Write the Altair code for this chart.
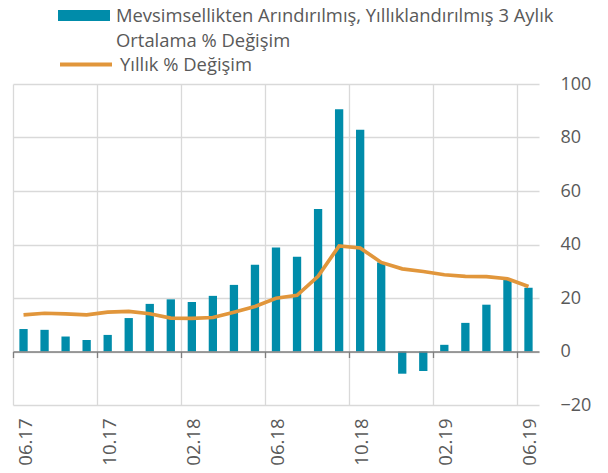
import altair as alt
import pandas as pd

months = ["06.17", "07.17", "08.17", "09.17", "10.17", "11.17", "12.17",
          "01.18", "02.18", "03.18", "04.18", "05.18", "06.18", "07.18",
          "08.18", "09.18", "10.18", "11.18", "12.18", "01.19", "02.19",
          "03.19", "04.19", "05.19", "06.19"]
bar_values = [8.4, 8.1, 5.6, 4.3, 6.2, 12.5, 17.8, 19.5, 18.5, 20.8, 24.9, 32.4,
              38.9, 35.4, 53.3, 90.6, 82.9, 33.3, -8.3, -7.3, 2.5, 10.7, 17.5,
              27.1, 23.8]
line_values = [13.7, 14.3, 14.1, 13.7, 14.7, 15.0, 14.1, 12.5, 12.4, 12.7, 14.7,
               16.8, 19.9, 21.0, 28.1, 39.5, 38.7, 33.3, 30.9, 29.9, 28.7, 28.1,
               28.0, 27.2, 24.3]
tick_months = ["06.17", "10.17", "02.18", "06.18", "10.18", "02.19", "06.19"]
y_ticks = [-20, 0, 20, 40, 60, 80, 100]
bar_name = "Mevsimsellikten Arındırılmış, Yıllıklandırılmış 3 Aylık|Ortalama % Değişim"
line_name = "Yıllık % Değişim"

df = pd.DataFrame({"month": months, "bar": bar_values, "line": line_values,
                   "bar_series": bar_name, "line_series": line_name})

W, H = 526, 321
FONT = "Open Sans"
GRAY = "#595959"
TEAL = "#008CAA"
ORANGE = "#E1963B"
GRID = "#D9D9D9"
LEG_FS = 18.4
LINE_H = 25.5

x_scale = alt.Scale(domain=months, paddingInner=0, paddingOuter=0)
y_scale = alt.Scale(domain=[-20, 100], nice=False)

bars = alt.Chart(df).mark_bar(size=8.3).encode(
    x=alt.X("month:N", scale=x_scale, sort=months,
            axis=alt.Axis(title=None, orient="bottom", labelAngle=270, values=tick_months,
                          labelFont=FONT, labelFontSize=18.5, labelColor=GRAY,
                          ticks=False, domain=False, grid=False, labelPadding=13,
                          labelOffset=2)),
    y=alt.Y("bar:Q", scale=y_scale,
            axis=alt.Axis(title=None, orient="right", values=y_ticks, grid=True,
                          gridColor=GRID, gridWidth=1.3, domain=False, ticks=False,
                          labelFont=FONT, labelFontSize=18, labelColor=GRAY,
                          labelPadding=21)),
    fill=alt.Fill("bar_series:N", scale=alt.Scale(domain=[bar_name], range=[TEAL]),
                  legend=alt.Legend(title=None, orient="none", legendX=45, legendY=-94.5,
                                    symbolType="M-1,-0.21H1V0.21H-1Z", symbolSize=2704,
                                    symbolStrokeWidth=0, labelExpr="split(datum.label, '|')",
                                    labelFont=FONT, labelFontSize=LEG_FS, labelColor=GRAY,
                                    labelLimit=700, labelOffset=6, padding=0)),
)

line = alt.Chart(df).mark_line(strokeWidth=3.7).encode(
    x=alt.X("month:N", scale=x_scale, sort=months,
            axis=alt.Axis(title=None, orient="bottom", labels=False, ticks=False,
                          domain=False, grid=True, gridColor=GRID, gridWidth=1.3,
                          bandPosition=0, values=tick_months)),
    y=alt.Y("line:Q", scale=y_scale, title=None),
    stroke=alt.Stroke("line_series:N", scale=alt.Scale(domain=[line_name], range=[ORANGE]),
                      legend=alt.Legend(title=None, orient="none", legendX=45, legendY=-47.5,
                                        symbolType="stroke", symbolSize=2704,
                                        symbolStrokeWidth=4, labelFont=FONT,
                                        labelFontSize=LEG_FS, labelColor=GRAY,
                                        labelOffset=6, padding=0)),
)

zero_axis = alt.Chart(df).mark_point(opacity=0).encode(
    x=alt.X("month:N", scale=x_scale, sort=months,
            axis=alt.Axis(title=None, orient="bottom", labels=False, grid=False,
                          domain=True, domainColor="#7F7F7F", domainWidth=1.3,
                          ticks=True, tickColor="#7F7F7F", tickWidth=1.3, tickSize=6,
                          bandPosition=0, values=tick_months, offset=-H * 20 / 120,
                          zindex=1)),
    y=alt.Y("bar:Q", scale=y_scale, title=None),
)

chart = alt.layer(bars, line, zero_axis).resolve_axis(x="independent").properties(
    width=W, height=H,
    autosize=alt.AutoSizeParams(type="none"),
    padding={"left": 5, "top": 76, "right": 61, "bottom": 60},
).configure(style={"guide-label": {"lineHeight": LINE_H}}).configure_view(stroke=None)

chart.save("out.html", embed_options={"renderer": "svg", "actions": False})
